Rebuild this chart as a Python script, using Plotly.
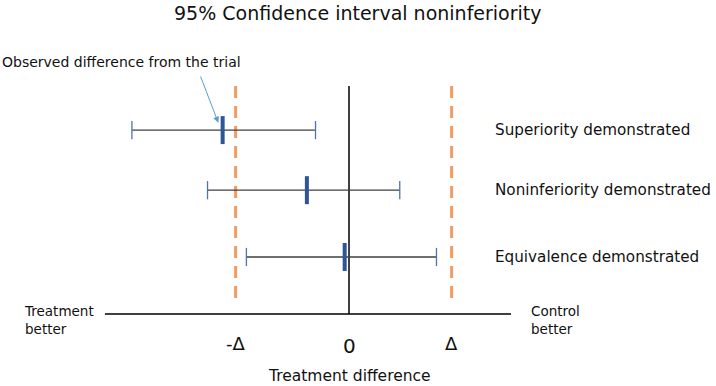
import plotly.graph_objects as go

# ---- data (treatment-difference units, zero = no difference) ----
scenarios = ["Superiority demonstrated", "Noninferiority demonstrated", "Equivalence demonstrated"]
ci_lower = [-2.01, -1.31, -0.95]
estimate = [-1.17, -0.39, -0.04]
ci_upper = [-0.31, 0.47, 0.81]
row_pos = [3.0, 2.02, 0.93]
margin_labels = ["-Δ", "0", "Δ"]
margin_values = [-1.05, 0.0, 0.95]

W, H = 716, 386
PX_X = 108.0   # px per unit, x
PX_Y = 61.3    # px per unit, y
X0_PX = 349    # pixel of zero
Y0_PX = 314    # pixel of axis line

xr = [-X0_PX / PX_X, (W - X0_PX) / PX_X]
yr = [-(H - Y0_PX) / PX_Y, Y0_PX / PX_Y]

FONT = "DejaVu Sans"
ORANGE = "#F29B62"
BLUE = "#2F5597"
CAP = "#4F72B0"
ARROW = "#5B9BD5"

fig = go.Figure()

# orange dashed margin lines
for v in (margin_values[0], margin_values[2]):
    fig.add_trace(go.Scatter(x=[v, v], y=[3.72, 0.15], mode="lines",
                             line=dict(color=ORANGE, width=3, dash="12px,8px"),
                             hoverinfo="skip", showlegend=False))

# zero line
fig.add_trace(go.Scatter(x=[margin_values[1]] * 2, y=[3.72, 0.0], mode="lines",
                         line=dict(color="black", width=1.5),
                         hoverinfo="skip", showlegend=False))

# horizontal axis line
fig.add_trace(go.Scatter(x=[-2.26, 1.5], y=[0, 0], mode="lines",
                         line=dict(color="black", width=1.3),
                         hoverinfo="skip", showlegend=False))

# confidence intervals
for lo, est, hi, yv in zip(ci_lower, estimate, ci_upper, row_pos):
    fig.add_trace(go.Scatter(x=[lo, hi], y=[yv, yv], mode="lines",
                             line=dict(color="#3F3F3F", width=1.3),
                             hoverinfo="skip", showlegend=False))
    fig.add_trace(go.Scatter(x=[lo, hi], y=[yv, yv], mode="markers",
                             marker=dict(symbol="line-ns", size=13,
                                         line=dict(color=CAP, width=1.3)),
                             hoverinfo="skip", showlegend=False))
    fig.add_trace(go.Scatter(x=[est], y=[yv], mode="markers",
                             marker=dict(symbol="line-ns", size=20,
                                         line=dict(color=BLUE, width=4)),
                             hoverinfo="skip", showlegend=False))

annots = []
# scenario labels
for name, yv in zip(scenarios, row_pos):
    annots.append(dict(x=(493) / W, xref="paper", y=yv, yref="y", text=name,
                       showarrow=False, xanchor="left", yanchor="middle",
                       font=dict(family=FONT, size=15.2, color="#111")))

# margin tick labels
for lab, v in zip(margin_labels, margin_values):
    yy = 1 - (346 if lab == "0" else 343) / H
    annots.append(dict(x=v, xref="x", y=yy, yref="paper", text=lab,
                       showarrow=False, xanchor="center", yanchor="middle",
                       font=dict(family=FONT, size=20 if lab == "0" else 18, color="#111")))

# title
annots.append(dict(x=0.5, xref="paper", y=1 - 13 / H, yref="paper",
                   text="95% Confidence interval noninferiority", showarrow=False,
                   xanchor="center", yanchor="middle",
                   font=dict(family=FONT, size=19, color="#111")))
# axis title
annots.append(dict(x=349 / W, xref="paper", y=1 - 376 / H, yref="paper",
                   text="Treatment difference", showarrow=False,
                   xanchor="center", yanchor="middle",
                   font=dict(family=FONT, size=15.5, color="#111")))
# side labels
annots.append(dict(x=22 / W, xref="paper", y=1 - 320 / H, yref="paper",
                   text="Treatment<br>better", showarrow=False, align="left",
                   xanchor="left", yanchor="middle",
                   font=dict(family=FONT, size=13.5, color="#111")))
annots.append(dict(x=529 / W, xref="paper", y=1 - 320 / H, yref="paper",
                   text="Control<br>better", showarrow=False, align="left",
                   xanchor="left", yanchor="middle",
                   font=dict(family=FONT, size=13.5, color="#111")))
# observed difference note
annots.append(dict(x=0 / W, xref="paper", y=1 - 62 / H, yref="paper",
                   text="Observed difference from the trial", showarrow=False,
                   xanchor="left", yanchor="middle",
                   font=dict(family=FONT, size=14, color="#111")))
# arrow
annots.append(dict(x=estimate[0] - 0.04, xref="x", y=row_pos[0] + 0.12, yref="y",
                   ax=(200 - X0_PX) / PX_X, axref="x", ay=(Y0_PX - 75) / PX_Y, ayref="y",
                   text="", showarrow=True, arrowhead=2, arrowsize=1.2,
                   arrowwidth=1, arrowcolor=ARROW))

fig.update_layout(
    width=W, height=H,
    margin=dict(l=0, r=0, t=0, b=0),
    paper_bgcolor="white", plot_bgcolor="white",
    xaxis=dict(range=xr, visible=False, fixedrange=True),
    yaxis=dict(range=yr, visible=False, fixedrange=True),
    annotations=annots,
    showlegend=False,
)

fig.write_html("out.html", config={"displayModeBar": False},
               post_script="document.body.style.margin='0px';")
